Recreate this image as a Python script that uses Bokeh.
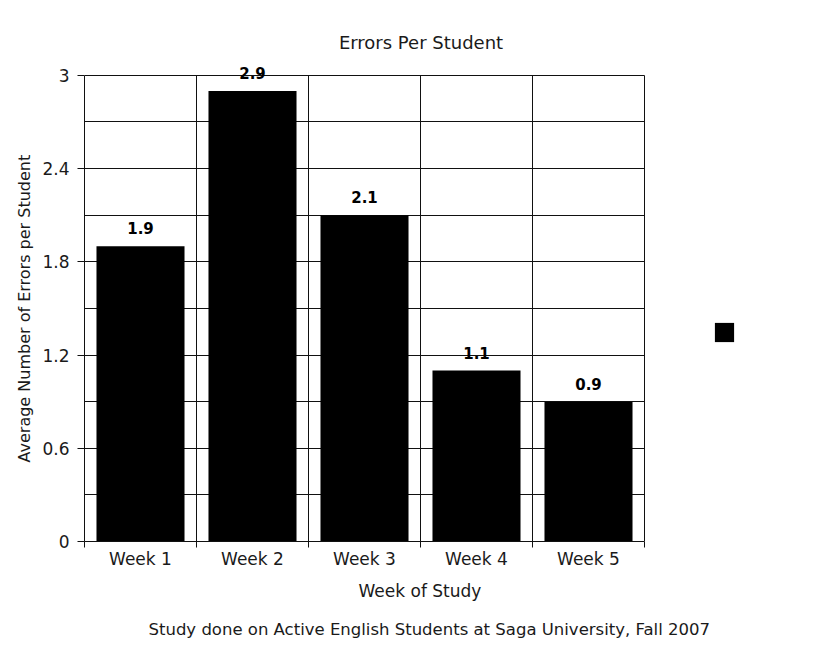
from bokeh.plotting import figure
from bokeh.models import (Range1d, FixedTicker, Label, LabelSet, ColumnDataSource,
                          Legend, LegendItem, Title)
from bokeh.core.properties import value
from bokeh.embed import file_html
from bokeh.resources import INLINE

# ---- data ----
weeks = ["Week 1", "Week 2", "Week 3", "Week 4", "Week 5"]
errors = [1.9, 2.9, 2.1, 1.1, 0.9]
value_labels = ["1.9", "2.9", "2.1", "1.1", "0.9"]
y_ticks = [0, 0.6, 1.2, 1.8, 2.4, 3]
y_tick_labels = ["0", "0.6", "1.2", "1.8", "2.4", "3"]
y_grid_lines = [0, 0.3, 0.6, 0.9, 1.2, 1.5, 1.8, 2.1, 2.4, 2.7, 3]
title_text = "Errors Per Student"
x_title = "Week of Study"
y_title = "Average Number of Errors per Student"
footer_text = "Study done on Active English Students at Saga University, Fall 2007"

# ---- layout (pixels) ----
W, H = 822, 649
L, R, T, B = 84, 644, 75, 542          # chart area (value 3 at T, 0 at B)
FONT = "DejaVu Sans"
TXT = "#1a1a1a"
GRID = "#111111"

n = len(weeks)
x_pos = [i + 0.5 for i in range(n)]
x_bounds = [i for i in range(n + 1)]
y_max = max(y_ticks)
ppx = (R - L) / n            # pixels per x unit
ppy = (B - T) / y_max        # pixels per y unit
# the frame reaches the top and right edge of the canvas so that labels
# outside the gridded area are not clipped
x_end = (W - L) / ppx
y_end = B / ppy


def px_x(px):
    return (px - L) / ppx


def px_y(py):
    return (B - py) / ppy


p = figure(width=W, height=H, output_backend="svg", toolbar_location=None,
           x_range=Range1d(0, x_end), y_range=Range1d(0, y_end),
           min_border_left=L, min_border_right=0,
           min_border_top=0, min_border_bottom=H - B)
p.title.visible = False
p.background_fill_color = "white"
p.border_fill_color = "white"
p.outline_line_color = None

src = ColumnDataSource(dict(x=x_pos, top=errors, lab=value_labels))
bars = p.vbar(x="x", top="top", bottom=0, width=0.786, source=src,
              fill_color="black", line_color=None)

# grids, limited to the chart area
p.xgrid.ticker = FixedTicker(ticks=x_bounds)
p.ygrid.ticker = FixedTicker(ticks=y_grid_lines)
p.xgrid.cross_bounds = (0, y_max)
p.ygrid.cross_bounds = (0, n)
for g in (p.xgrid, p.ygrid):
    g.grid_line_color = GRID
    g.grid_line_width = 1
    g.grid_line_alpha = 1

# x axis
xa = p.xaxis[0]
xa.bounds = (0, n)
xa.ticker = FixedTicker(ticks=x_pos, minor_ticks=x_bounds)
xa.major_label_overrides = dict(zip(x_pos, weeks))
xa.major_tick_out = 0
xa.major_tick_in = 0
xa.minor_tick_out = 6
xa.minor_tick_in = 0
xa.minor_tick_line_color = GRID
xa.major_label_standoff = 1
xa.axis_line_color = GRID

# y axis
ya = p.yaxis[0]
ya.bounds = (0, y_max)
ya.ticker = FixedTicker(ticks=y_ticks, minor_ticks=[])
ya.major_label_overrides = dict(zip(y_ticks, y_tick_labels))
ya.major_tick_out = 7
ya.major_tick_in = 0
ya.major_tick_line_color = GRID
ya.minor_tick_out = 0
ya.minor_tick_in = 0
ya.major_label_standoff = 8
ya.axis_line_color = GRID

for ax in (xa, ya):
    ax.major_label_text_font = FONT
    ax.major_label_text_font_size = "17px"
    ax.major_label_text_color = TXT

# value labels above bars
p.add_layout(LabelSet(x="x", y="top", text="lab", source=src, y_offset=12,
                      text_align="center", text_baseline="alphabetic",
                      text_font=value(FONT), text_font_size=value("15px"),
                      text_font_style="bold", text_color="black"))

# chart title
p.add_layout(Label(x=px_x(420.5), y=px_y(42), text=title_text,
                   text_align="center", text_baseline="alphabetic",
                   text_font=FONT, text_font_size="18px", text_color=TXT))

# legend (single black square, no label)
legend = Legend(items=[LegendItem(label=" ", renderers=[bars], index=0)],
                location=(714 - 2.4 - L, B - 344.6), padding=0, margin=0,
                spacing=0, glyph_width=24, glyph_height=24, label_standoff=0,
                label_text_font_size="1px", label_width=0, label_height=0,
                border_line_color=None, background_fill_alpha=0)
p.add_layout(legend)

# y axis title (left), x axis title and footer (below)
p.add_layout(Title(text=y_title, align="left", offset=79, vertical_align="middle",
                   standoff=9, text_font=FONT, text_font_size="16px",
                   text_font_style="normal", text_color=TXT), "left")
p.add_layout(Title(text=x_title, align="left", offset=274, vertical_align="middle",
                   standoff=16, text_font=FONT, text_font_size="17px",
                   text_font_style="normal", text_color=TXT), "below")
p.add_layout(Title(text=footer_text, align="left", offset=64, vertical_align="middle",
                   standoff=19, text_font=FONT, text_font_size="16.5px",
                   text_font_style="normal", text_color=TXT), "below")

open("out.html", "w").write(file_html(p, INLINE))
